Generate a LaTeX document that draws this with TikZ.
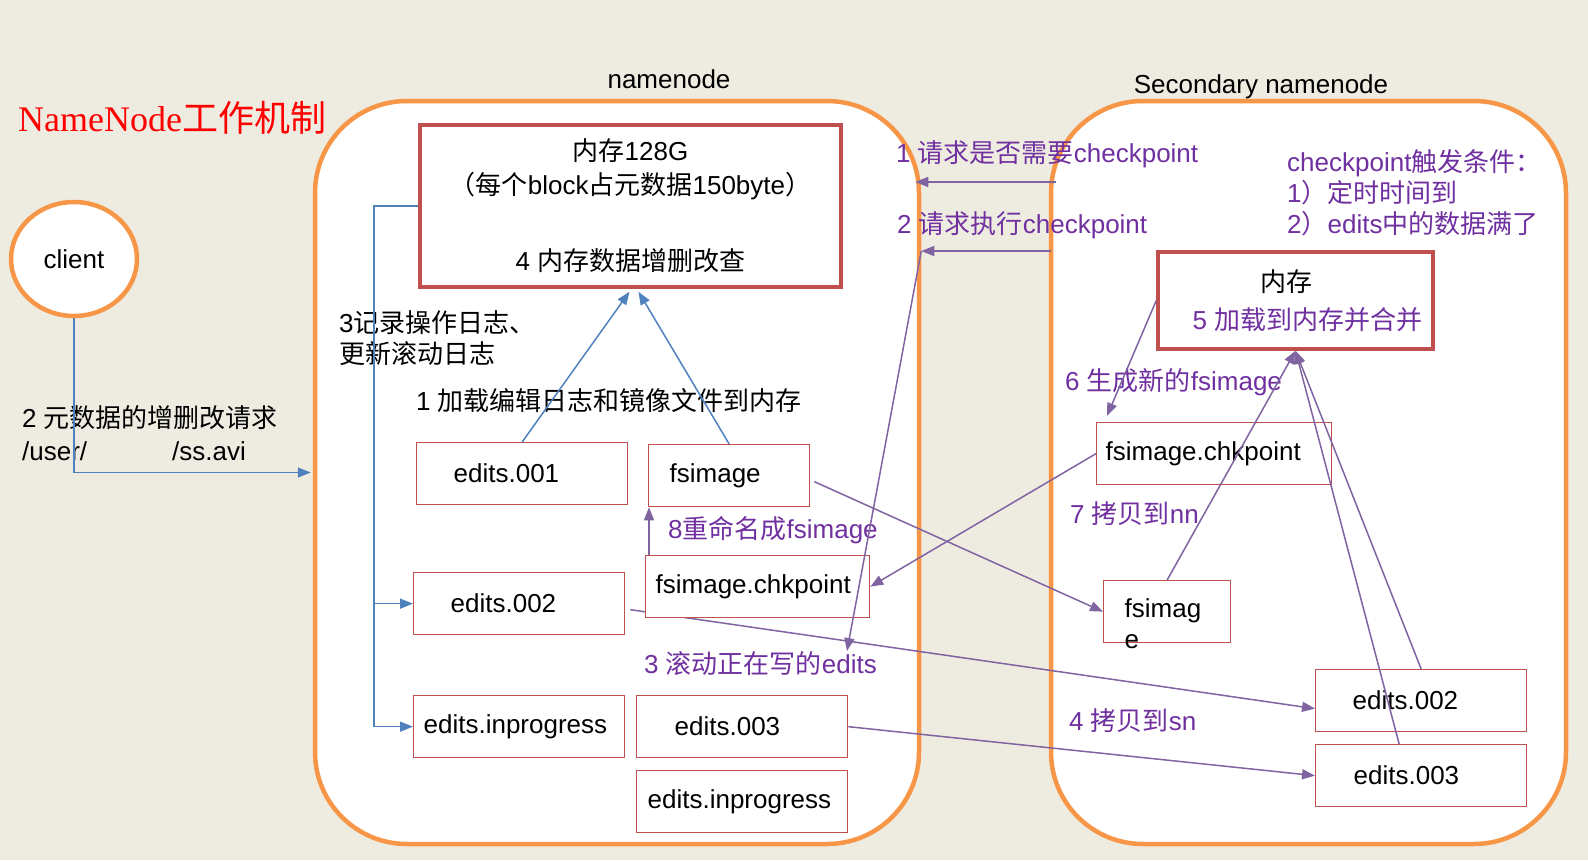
\documentclass[tikz,border=0pt]{standalone}
\usepackage{fontspec}
\setmainfont{Liberation Sans}
\newfontfamily\cjk{Noto Sans CJK SC}
\newfontfamily\titleserif{Liberation Serif}
\usetikzlibrary{arrows.meta,shapes.geometric}
\pgfdeclarelayer{back}
\pgfsetlayers{back,main}
\definecolor{paper}{HTML}{EEECE1}
\definecolor{frameorange}{HTML}{F79646}
\definecolor{boxred}{HTML}{C0504D}
\definecolor{logblue}{HTML}{4F81BD}
\definecolor{flowpurple}{HTML}{8064A2}
\definecolor{notepurple}{HTML}{7030A0}

\begin{document}
\begin{tikzpicture}[x=1pt, y=-1pt,
  font=\fontsize{26pt}{31pt}\selectfont,
  frame/.style={rectangle, draw=frameorange, line width=4.5pt, fill=white, rounded corners=92pt},
  membox/.style={rectangle, draw=boxred, line width=3.5pt, fill=white, align=center},
  file/.style={rectangle, draw=boxred, line width=1.3pt, fill=white, anchor=north west, minimum height=62pt, inner ysep=0pt, align=left},
  note/.style={anchor=west, inner sep=0pt, align=left},
  purplenote/.style={note, text=notepurple},
  blueflow/.style={draw=logblue, line width=1.5pt, -{Triangle[length=13pt,width=10pt]}},
  purpleflow/.style={draw=flowpurple, line width=1.5pt, -{Triangle[length=13pt,width=10pt]}}]

% Background and containers
\begin{pgfonlayer}{back}
\path[use as bounding box, fill=paper] (0,0) rectangle (1588,860);
\node (nnbox) [frame, minimum width=604pt, minimum height=743pt] at (617,472.5) {};
\node (snbox) [frame, minimum width=515pt, minimum height=743pt] at (1308.5,472.5) {};
\end{pgfonlayer}

% Nodes
\node (title) [note, text=red, font=\fontsize{36pt}{40pt}\selectfont] at (18,118) {{\titleserif NameNode}{\cjk 工作机制}};
\node (client) [ellipse, draw=frameorange, line width=4.5pt, fill=white, minimum width=126pt, minimum height=114pt] at (74,259) {client};
\node (nnname) at (669,79) {namenode};
\node (snname) at (1261,87) {Secondary namenode};

\node (nnmem) [membox, minimum width=421pt, minimum height=162pt] at (630.5,206) {{\cjk 内存}128G\\[3pt]{\cjk （每个}block{\cjk 占元数据}150byte{\cjk ）}\\[45pt]4 {\cjk 内存数据增删改查}};
\node (snmem) [membox, minimum width=275pt, minimum height=97pt] at (1295.5,300.5) {{\cjk 内存}\hspace*{18pt}\\[7pt]\hspace*{24pt}\textcolor{notepurple}{5 {\cjk 加载到内存并合并}}};

\node (e001) [file, text width=137pt, inner xsep=37pt] at (416,442) {edits.001};
\node (nnfsimage) [file, text width=119pt, inner xsep=21pt] at (648,444) {fsimage};
\node (e002) [file, text width=137pt, inner xsep=37pt] at (413,572) {edits.002};
\node (nnchk) [file, text width=204pt, inner xsep=10pt] at (645,555) {fsimage.chkpoint};
\node (nnprogA) [file, text width=191pt, inner xsep=10pt] at (413,695) {edits.inprogress};
\node (e003) [file, text width=135pt, inner xsep=38pt] at (636,695) {edits.003};
\node (nnprogB) [file, text width=189pt, inner xsep=11pt] at (636,770) {edits.inprogress};
\node (snchk) [file, text width=217pt, inner xsep=9pt] at (1096,422) {fsimage.chkpoint};
\node (snfsimage) [file, text width=85pt, inner xsep=21pt, text height=37pt, text depth=25pt] at (1103,580) {fsimag\\e};
\node (sne002) [file, text width=137pt, inner xsep=37pt] at (1315,669) {edits.002};
\node (sne003) [file, text width=135pt, inner xsep=38pt] at (1315,744) {edits.003};

% Labels
\node (reqnote) [note] at (22,433) {2 {\cjk 元数据的增删改请求}\\[2pt]/user/\hspace{85pt}/ss.avi};
\node (lognote) [note] at (339,338) {3{\cjk 记录操作日志、}\\{\cjk 更新滚动日志}};
\node (loadnote) [note] at (416,401) {1 {\cjk 加载编辑日志和镜像文件到内存}};
\node (ask1note) [purplenote] at (896,154) {1 {\cjk 请求是否需要}checkpoint};
\node (ask2note) [purplenote] at (897,225) {2 {\cjk 请求执行}checkpoint};
\node (trigger) [purplenote] at (1287,193) {checkpoint{\cjk 触发条件：}\\1{\cjk ）定时时间到}\\2{\cjk ）}edits{\cjk 中的数据满了}};
\node (newimg) [purplenote] at (1065,382) {6 {\cjk 生成新的}fsimage};
\node (copynn) [purplenote] at (1070,514) {7 {\cjk 拷贝到}nn};
\node (rename) [purplenote] at (668,530) {8{\cjk 重命名成}fsimage};
\node (rollnote) [purplenote] at (644,664) {3 {\cjk 滚动正在写的}edits};
\node (copysn) [purplenote] at (1069,721) {4 {\cjk 拷贝到}sn};

% Arrows
\coordinate (logbus) at (374,0);
\coordinate (ask1) at (1056,182);
\coordinate (ask2) at (1051,251);
\coordinate (roll) at (847,651);

\draw[blueflow, shorten >=2pt] (client) |- (nnbox.west);
\draw[blueflow] (nnmem.west) -| (logbus |- nnprogA.west) -- (nnprogA.west);
\draw[blueflow] (logbus |- e002.west) -- (e002.west);
\draw[blueflow] (e001.north) -- ([xshift=-1pt,yshift=-3pt]nnmem.south);
\draw[blueflow] (nnfsimage.north) -- ([xshift=8pt,yshift=-3pt]nnmem.south);

\draw[purpleflow] (ask1) -- ([xshift=-6pt]ask1 -| nnbox.east);
\draw[purpleflow] (ask2) -- (ask2 -| nnbox.east);
\draw[purpleflow] (ask2 -| nnbox.east) -- (roll);
\draw[purpleflow] ([xshift=4pt]nnchk.north west) -- ([xshift=4pt]nnchk.north west |- nnfsimage.south);
\draw[purpleflow] ([xshift=4pt,yshift=-6pt]nnfsimage.east) -- (snfsimage.west);
\draw[purpleflow] (snchk.west) -- (nnchk.east);
\draw[purpleflow] (snmem.west) -- ([xshift=11pt,yshift=6pt]snchk.north west);
\draw[purpleflow] (snfsimage.north) -- (snmem.south);
\draw[purpleflow] (sne002.north) -- (snmem.south);
\draw[purpleflow] ([xshift=-22pt]sne003.north) -- (snmem.south);
\draw[purpleflow] (e003.east) -- (sne003.west);
\begin{pgfonlayer}{back}
\draw[purpleflow] ([xshift=5pt,yshift=-6pt]e002.east) -- ([yshift=-8pt]sne002.west);
\end{pgfonlayer}

\end{tikzpicture}
\end{document}
